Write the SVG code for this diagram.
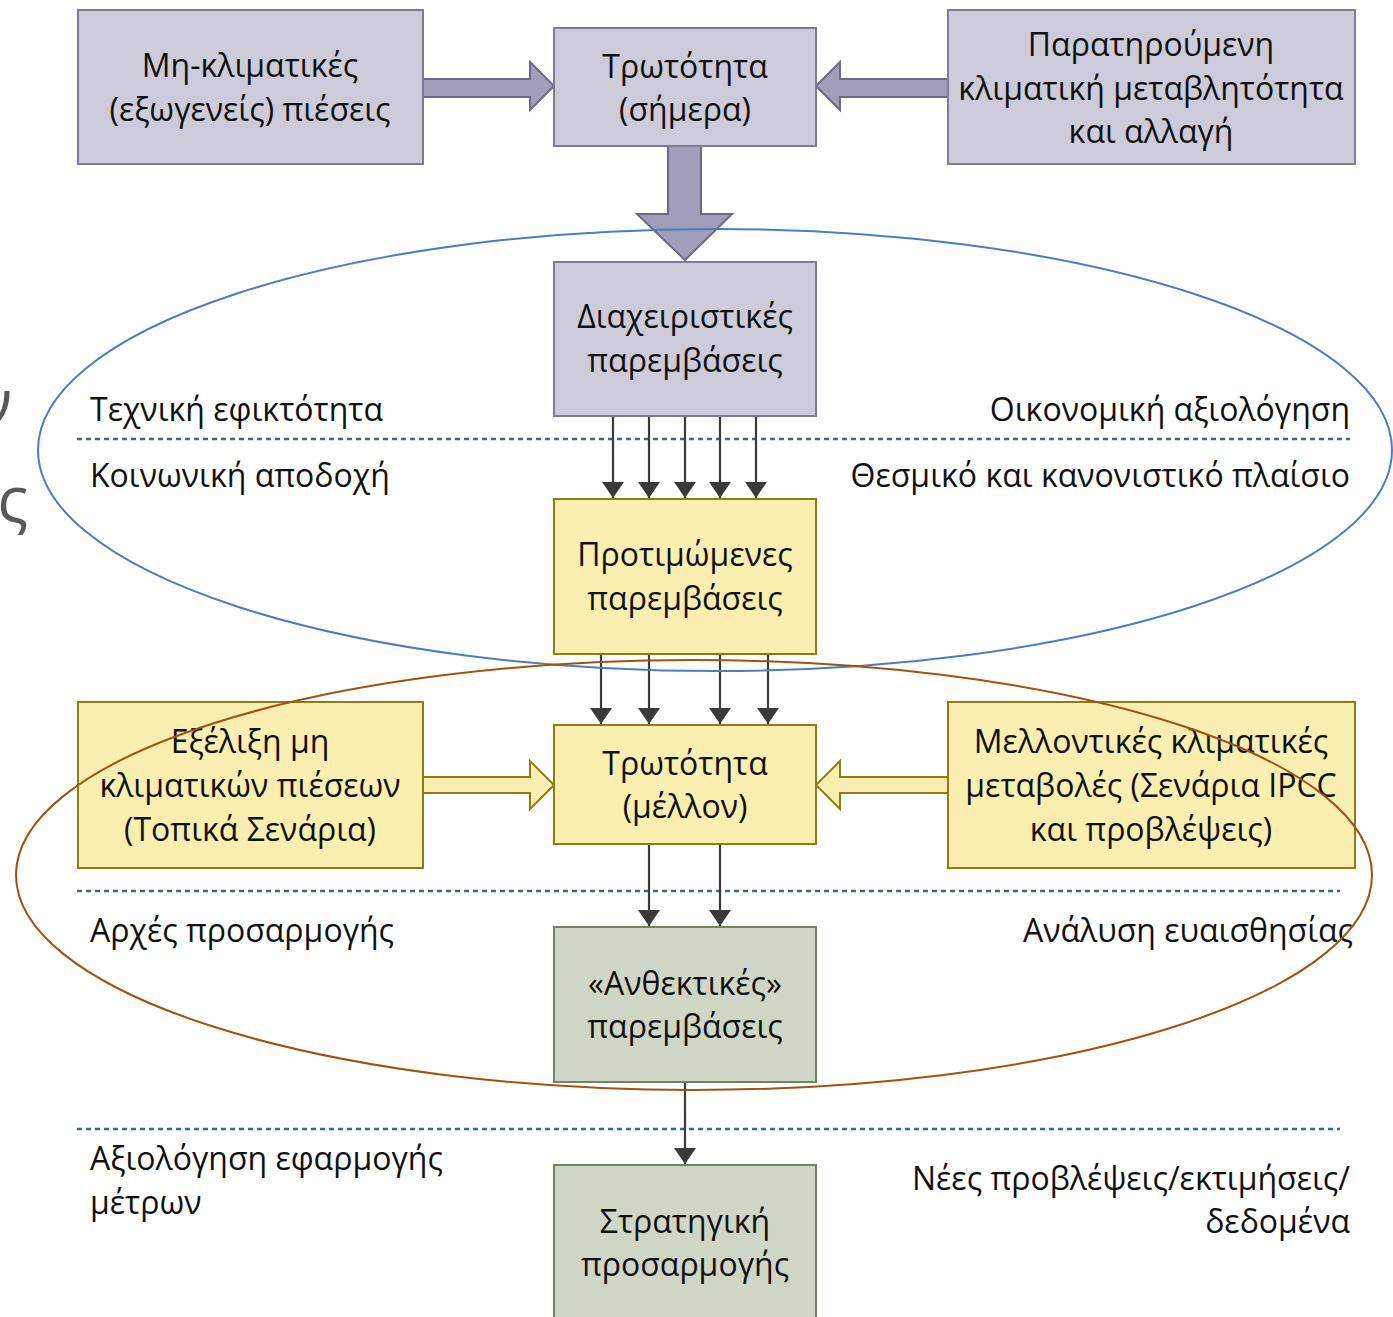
<svg xmlns="http://www.w3.org/2000/svg" width="1393" height="1317" viewBox="0 0 1393 1317">
<defs>
<style>
text{font-family:"Open Sans","Noto Sans","DejaVu Sans",sans-serif;font-size:32px;fill:#111;}
.c{text-anchor:middle;}
.r{text-anchor:end;}
.grey{fill:#cdcbd9;stroke:#7e7b99;stroke-width:2;}
.yel{fill:#faeeb0;stroke:#8f7c12;stroke-width:2;}
.grn{fill:#cfd6c5;stroke:#728362;stroke-width:2;}
.barrow{fill:#a19ebb;stroke:#6c6989;stroke-width:2;stroke-linejoin:miter;}
.yarrow{fill:#faeeb0;stroke:#8f7c12;stroke-width:2;}
.dot{stroke:#3f6a78;stroke-width:2.5;stroke-dasharray:5 4;fill:none;}
.ln{stroke:#3a3a3a;stroke-width:2.2;fill:none;marker-end:url(#ah);}
.side{font-size:64px;fill:#595959;}
</style>
<marker id="ah" viewBox="0 0 16 22" refX="16" refY="11" markerWidth="16" markerHeight="22" markerUnits="userSpaceOnUse" orient="auto">
<path d="M0,0 L16,11 L0,22 Z" fill="#3a3a3a"/>
</marker>
</defs>

<text class="side r" x="12" y="425">ν</text>
<text class="side r" x="28" y="522">ς</text>

<g id="dividers">
<line class="dot" x1="77" y1="439" x2="1350" y2="439"/>
<line class="dot" x1="77" y1="891" x2="1340" y2="891"/>
<line class="dot" x1="77" y1="1129" x2="1340" y2="1129"/>
</g>

<g id="connectors">
<path class="barrow" d="M423,79 L530,79 L530,62 L554,86 L530,110 L530,97 L423,97 Z"/>
<path class="barrow" d="M948,79 L840,79 L840,62 L816,86 L840,110 L840,97 L948,97 Z"/>
<path class="barrow" d="M668,146 L701,146 L701,214 L732,214 L685,260 L637,214 L668,214 Z"/>
<path class="yarrow" d="M423,777 L530,777 L530,761 L554,785 L530,809 L530,793 L423,793 Z"/>
<path class="yarrow" d="M948,777 L840,777 L840,761 L816,785 L840,809 L840,793 L948,793 Z"/>
<line class="ln" x1="613" y1="416" x2="613" y2="498"/>
<line class="ln" x1="649" y1="416" x2="649" y2="498"/>
<line class="ln" x1="685" y1="416" x2="685" y2="498"/>
<line class="ln" x1="720" y1="416" x2="720" y2="498"/>
<line class="ln" x1="756" y1="416" x2="756" y2="498"/>
<line class="ln" x1="601" y1="654" x2="601" y2="724"/>
<line class="ln" x1="649" y1="654" x2="649" y2="724"/>
<line class="ln" x1="720" y1="654" x2="720" y2="724"/>
<line class="ln" x1="768" y1="654" x2="768" y2="724"/>
<line class="ln" x1="649" y1="844" x2="649" y2="926"/>
<line class="ln" x1="720" y1="844" x2="720" y2="926"/>
<line class="ln" x1="685" y1="1082" x2="685" y2="1164"/>
</g>

<g id="n-nonclimatic">
<rect class="grey" x="78" y="10" width="345" height="154"/>
<text class="c" x="250" y="77">Μη-κλιματικές</text>
<text class="c" x="250" y="121">(εξωγενείς) πιέσεις</text>
</g>
<g id="n-vuln-now">
<rect class="grey" x="554" y="28" width="262" height="118"/>
<text class="c" x="685" y="78">Τρωτότητα</text>
<text class="c" x="685" y="121">(σήμερα)</text>
</g>
<g id="n-observed">
<rect class="grey" x="948" y="10" width="407" height="154"/>
<text class="c" x="1151" y="56">Παρατηρούμενη</text>
<text class="c" x="1151" y="100">κλιματική μεταβλητότητα</text>
<text class="c" x="1151" y="143">και αλλαγή</text>
</g>
<g id="n-management">
<rect class="grey" x="554" y="262" width="262" height="154"/>
<text class="c" x="685" y="328">Διαχειριστικές</text>
<text class="c" x="685" y="372">παρεμβάσεις</text>
</g>
<g id="n-preferred">
<rect class="yel" x="554" y="499" width="262" height="155"/>
<text class="c" x="685" y="566">Προτιμώμενες</text>
<text class="c" x="685" y="610">παρεμβάσεις</text>
</g>
<g id="n-evolution">
<rect class="yel" x="78" y="702" width="345" height="166"/>
<text class="c" x="250" y="753">Εξέλιξη μη</text>
<text class="c" x="250" y="797">κλιματικών πιέσεων</text>
<text class="c" x="250" y="841">(Τοπικά Σενάρια)</text>
</g>
<g id="n-vuln-future">
<rect class="yel" x="554" y="725" width="262" height="119"/>
<text class="c" x="685" y="775">Τρωτότητα</text>
<text class="c" x="685" y="818">(μέλλον)</text>
</g>
<g id="n-future-climate">
<rect class="yel" x="948" y="702" width="407" height="166"/>
<text class="c" x="1151" y="753">Μελλοντικές κλιματικές</text>
<text class="c" x="1151" y="797">μεταβολές (Σενάρια IPCC</text>
<text class="c" x="1151" y="841">και προβλέψεις)</text>
</g>
<g id="n-resilient">
<rect class="grn" x="554" y="927" width="262" height="155"/>
<text class="c" x="685" y="995">«Ανθεκτικές»</text>
<text class="c" x="685" y="1038">παρεμβάσεις</text>
</g>
<g id="n-strategy">
<rect class="grn" x="554" y="1165" width="262" height="160"/>
<text class="c" x="685" y="1233">Στρατηγική</text>
<text class="c" x="685" y="1276">προσαρμογής</text>
</g>

<g id="labels">
<text x="90" y="421">Τεχνική εφικτότητα</text>
<text class="r" x="1350" y="421">Οικονομική αξιολόγηση</text>
<text x="90" y="487">Κοινωνική αποδοχή</text>
<text class="r" x="1350" y="487">Θεσμικό και κανονιστικό πλαίσιο</text>
<text x="90" y="942">Αρχές προσαρμογής</text>
<text class="r" x="1353" y="942">Ανάλυση ευαισθησίας</text>
<text x="90" y="1170">Αξιολόγηση εφαρμογής</text>
<text x="90" y="1214">μέτρων</text>
<text class="r" x="1350" y="1190">Νέες προβλέψεις/εκτιμήσεις/</text>
<text class="r" x="1350" y="1233">δεδομένα</text>
</g>

<g id="ellipses">
<ellipse cx="715" cy="450" rx="677" ry="221" fill="none" stroke="#4a7ebf" stroke-width="2"/>
<ellipse cx="694" cy="875" rx="678" ry="215" fill="none" stroke="#a0520f" stroke-width="2"/>
</g>
</svg>
